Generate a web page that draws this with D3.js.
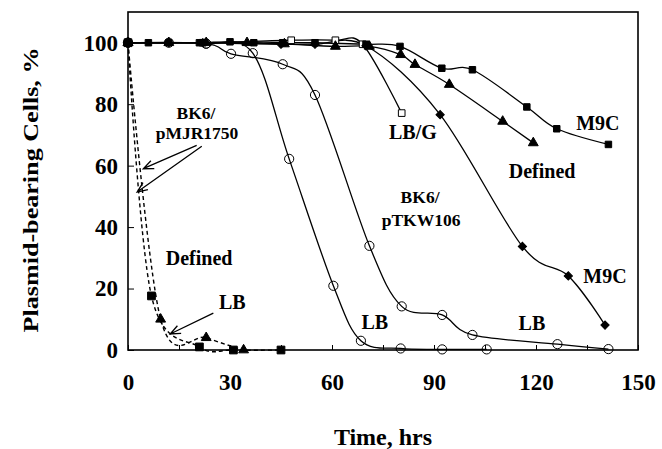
<!DOCTYPE html>
<html><head><meta charset="utf-8">
<script src="https://cdn.jsdelivr.net/npm/d3@7"></script>
<style>
body{margin:0;background:#fff}
svg{display:block}
text{font-family:"Liberation Serif","Times New Roman",serif;font-weight:bold;fill:#000}
</style>
</head><body>
<svg id="c" width="662" height="449"></svg>
<script>
// ---- tick values ----
const xTickValues = [0,15,30,45,60,75,90,105,120,135,150];
const xTickLabels = [0,30,60,90,120,150];
const yTickValues = [0,20,40,60,80,100];

// ---- BK6/pTKW106 series ----
const m9cSquareT  = [0,6,12,21,30,37,45.5,55,70,80,92.3,101.3,117.3,126.1,141.3];
const m9cSquareY  = [100,100,100,100,100.3,100,100,100,99.5,98.8,91.7,91.2,79.1,72,66.9];
const definedTriT = [0,12,23,35,46,61,71,80.2,84.4,94.5,110.2,119.2];
const definedTriY = [100,100,100,100,99.6,98.8,98.8,96.1,92.9,86.4,74.4,67.4];
const m9cDiamondT = [0,12,22,45,55,70,91.8,116,129.5,140.3];
const m9cDiamondY = [100,100,100,99.5,99.5,99,76.6,33.7,24.1,8.1];
const lbgSquareT  = [0,22,48,61,69,80.5];
const lbgSquareY  = [100,100,100.8,100.8,99.5,77.1];
const lbSlowT     = [0,23,30.3,45.5,55,71,80.5,92.4,101.3,126.3,141.3];
const lbSlowY     = [100,99.7,96.4,93,83,33.9,14.2,11.4,4.9,1.9,0.3];
const lbFastT     = [0,12,23,36.7,47.4,60.4,68.5,80.2,92.4,105.5];
const lbFastY     = [100,100,99.7,96.6,62.2,20.9,3,0.5,0.2,0.2];

// ---- BK6/pMJR1750 series (dashed) ----
const pmjrDefinedT = [0,6.9,21,31,45];
const pmjrDefinedY = [100,17.6,1,0,0];
const pmjrLbT      = [0,9.6,23,34];
const pmjrLbY      = [100,10,4,0];

// ---- annotations (data units) ----
const labelText = ["BK6/","pMJR1750","Defined","LB","LB/G","M9C","Defined","BK6/","pTKW106","M9C","LB","LB"];
const labelT    = [20,20.3,20.9,30.7,83.8,138.2,121.8,85.9,86.2,140.3,72.6,118.8];
const labelY    = [77.3,70.8,30.1,15.7,70.8,74,58.1,49.7,42.5,24,9.1,8.8];
const labelBig  = [false,false,true,true,true,true,true,false,false,true,true,true];
const arrowFromT = [20.2,21.7,25.1];
const arrowFromY = [66.6,66.3,12];
const arrowToT   = [4.5,2.7,12.4];
const arrowToY   = [59,51.4,5.2];

const W = 662, H = 449;
const m = {left:128, right:24, top:12, bottom:99};
const svg = d3.select("#c");
const x = d3.scaleLinear().domain([0,150]).range([m.left, W-m.right]);
const y = d3.scaleLinear().domain([0,110]).range([H-m.bottom, m.top]);

const zip = (ts, ys) => ts.map((t,i)=>({t, v:ys[i]}));
const line = d3.line().x(d=>x(d.t)).y(d=>y(d.v)).curve(d3.curveCardinal.tension(0));

// axes
const xAxis = d3.axisBottom(x).tickValues(xTickValues).tickSize(-5).tickPadding(24)
  .tickFormat(d => xTickLabels.includes(d) ? d : "");
const gx = svg.append("g").attr("transform",`translate(0,${H-m.bottom})`).call(xAxis);
const yAxis = d3.axisLeft(y).tickValues(yTickValues).tickSize(-6).tickPadding(10);
const gy = svg.append("g").attr("transform",`translate(${m.left},0)`).call(yAxis);
[gx,gy].forEach(g=>{
  g.select(".domain").remove();
  g.selectAll(".tick line").attr("stroke","#000").attr("stroke-width",1);
  g.selectAll(".tick text").attr("font-size",23).attr("font-family",'"Liberation Serif",serif').attr("font-weight","bold").attr("fill","#000");
});

svg.append("rect").attr("x",m.left).attr("y",m.top)
  .attr("width",W-m.left-m.right).attr("height",H-m.top-m.bottom)
  .attr("fill","none").attr("stroke","#000").attr("stroke-width",1.6);

svg.append("text").attr("x",(m.left+W-m.right)/2).attr("y",445)
  .attr("text-anchor","middle").attr("font-size",24).text("Time, hrs");
svg.append("text").attr("transform","translate(31,190) rotate(-90)")
  .attr("text-anchor","middle").attr("dy","0.35em").attr("font-size",20)
  .attr("textLength",285).attr("lengthAdjust","spacingAndGlyphs")
  .text("Plasmid-bearing Cells, %");

// lines
const solid = [zip(lbFastT,lbFastY), zip(lbSlowT,lbSlowY), zip(lbgSquareT,lbgSquareY),
  zip(m9cDiamondT,m9cDiamondY), zip(definedTriT,definedTriY), zip(m9cSquareT,m9cSquareY)];
solid.forEach(d=>svg.append("path").attr("d",line(d)).attr("fill","none")
  .attr("stroke","#000").attr("stroke-width",1.3));
[zip(pmjrDefinedT,pmjrDefinedY), zip(pmjrLbT,pmjrLbY)].forEach(d=>svg.append("path")
  .attr("d",line(d)).attr("fill","none").attr("stroke","#000")
  .attr("stroke-width",1.4).attr("stroke-dasharray","4,3"));

// markers
function sym(data, type, size, fill, rot){
  svg.append("g").selectAll("path").data(data).join("path")
    .attr("d", d3.symbol().type(type).size(size))
    .attr("transform", d=>`translate(${x(d.t)},${y(d.v)}) rotate(${rot||0})`)
    .attr("fill", fill).attr("stroke","#000").attr("stroke-width",1);
}
function circ(data){
  svg.append("g").selectAll("circle").data(data).join("circle")
    .attr("cx",d=>x(d.t)).attr("cy",d=>y(d.v)).attr("r",4.6)
    .attr("fill","none").attr("stroke","#000").attr("stroke-width",1);
}
circ(zip(lbFastT,lbFastY));
circ(zip(lbSlowT,lbSlowY));
sym(zip(lbgSquareT,lbgSquareY), d3.symbolSquare, 44, "#fff");
sym(zip(m9cDiamondT,m9cDiamondY), d3.symbolSquare, 34, "#000", 45);
sym(zip(definedTriT,definedTriY), d3.symbolTriangle, 42, "#000");
sym(zip(m9cSquareT,m9cSquareY), d3.symbolSquare, 42, "#000");
sym(zip(pmjrLbT,pmjrLbY), d3.symbolTriangle, 42, "#000");
sym(zip(pmjrDefinedT,pmjrDefinedY), d3.symbolSquare, 60, "#000");

// arrows
arrowFromT.forEach((t0,i)=>{
  const x0=x(t0), y0=y(arrowFromY[i]), x1=x(arrowToT[i]), y1=y(arrowToY[i]);
  const a = Math.atan2(y0-y1, x0-x1), L=11, s=0.4;
  const p = `M${x0},${y0}L${x1},${y1}M${x1+L*Math.cos(a+s)},${y1+L*Math.sin(a+s)}L${x1},${y1}L${x1+L*Math.cos(a-s)},${y1+L*Math.sin(a-s)}`;
  svg.append("path").attr("d",p).attr("fill","none").attr("stroke","#000").attr("stroke-width",1.3);
});

// labels
labelText.forEach((s,i)=>{
  svg.append("text").attr("x",x(labelT[i])).attr("y",y(labelY[i])).attr("dy","0.35em")
    .attr("text-anchor","middle").attr("font-size",labelBig[i]?20:17.5).text(s);
});
</script>
</body></html>
